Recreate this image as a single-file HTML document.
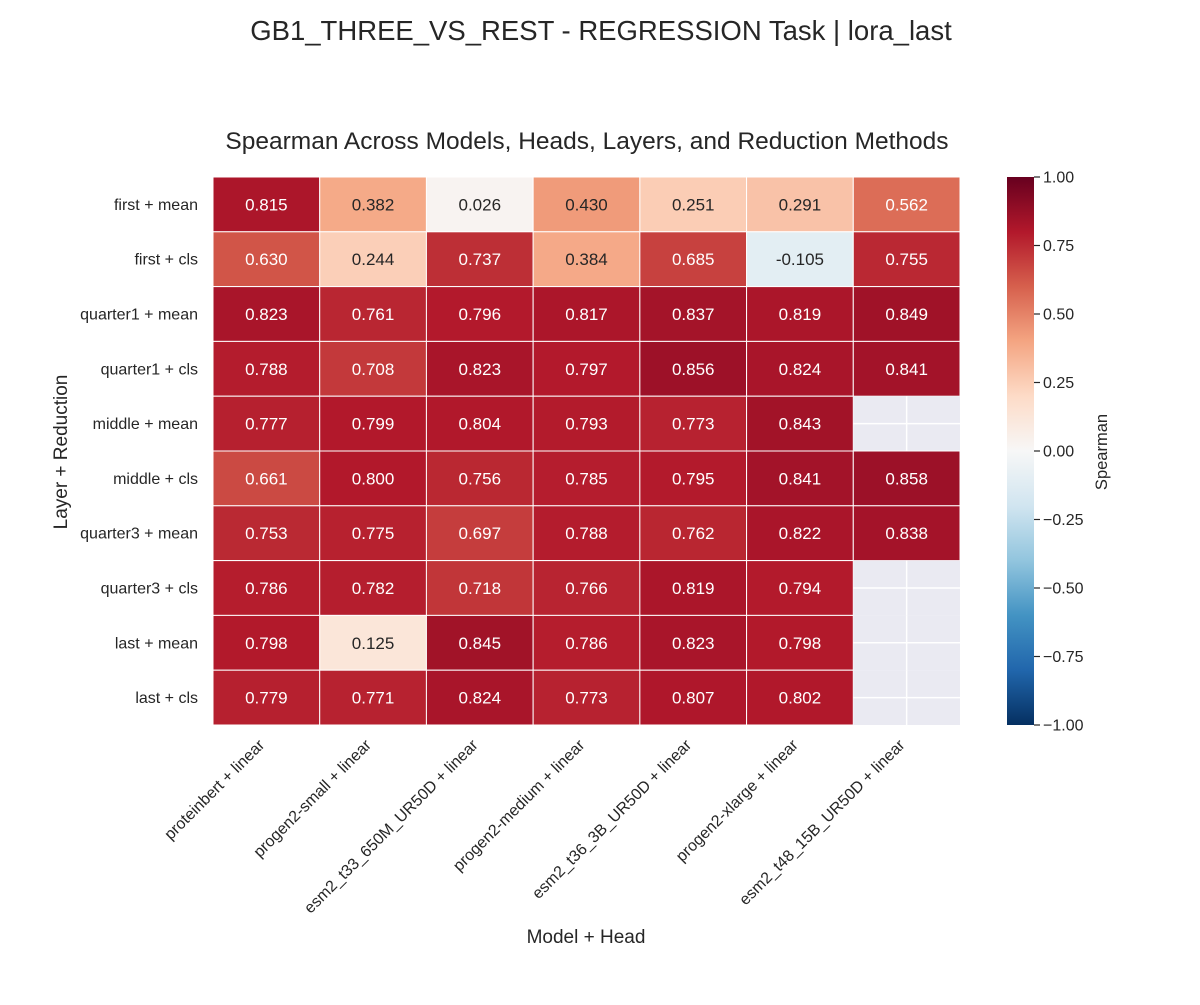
<!DOCTYPE html>
<html><head><meta charset="utf-8"><style>
body{margin:0;background:#fff}
svg text{font-family:"Liberation Sans",Arial,sans-serif;fill:#262626}
</style></head><body>
<svg id="chart" width="1200" height="1000" viewBox="0 0 1200 1000" xmlns="http://www.w3.org/2000/svg">
<text x="601" y="40" font-size="27.5" text-anchor="middle">GB1_THREE_VS_REST - REGRESSION Task | lora_last</text>
<text x="587" y="149" font-size="24.5" text-anchor="middle">Spearman Across Models, Heads, Layers, and Reduction Methods</text>
<g id="cells"></g>
<g id="ylabels"></g>
<g id="xlabels"></g>
<text transform="translate(67,452) rotate(-90)" font-size="19" text-anchor="middle">Layer + Reduction</text>
<text x="586" y="943" font-size="19" text-anchor="middle">Model + Head</text>
<defs><linearGradient id="cbgrad" x1="0" y1="1" x2="0" y2="0"></linearGradient></defs>
<rect x="1007" y="177" width="27" height="548" fill="url(#cbgrad)"/>
<g id="cbticks"></g>
<text transform="translate(1107,452) rotate(-90)" font-size="16.5" text-anchor="middle">Spearman</text>
</svg>
<script>
const rows=["first + mean","first + cls","quarter1 + mean","quarter1 + cls","middle + mean","middle + cls","quarter3 + mean","quarter3 + cls","last + mean","last + cls"];
const cols=["proteinbert + linear","progen2-small + linear","esm2_t33_650M_UR50D + linear","progen2-medium + linear","esm2_t36_3B_UR50D + linear","progen2-xlarge + linear","esm2_t48_15B_UR50D + linear"];
const values=[
[0.815,0.382,0.026,0.430,0.251,0.291,0.562],
[0.630,0.244,0.737,0.384,0.685,-0.105,0.755],
[0.823,0.761,0.796,0.817,0.837,0.819,0.849],
[0.788,0.708,0.823,0.797,0.856,0.824,0.841],
[0.777,0.799,0.804,0.793,0.773,0.843,null],
[0.661,0.800,0.756,0.785,0.795,0.841,0.858],
[0.753,0.775,0.697,0.788,0.762,0.822,0.838],
[0.786,0.782,0.718,0.766,0.819,0.794,null],
[0.798,0.125,0.845,0.786,0.823,0.798,null],
[0.779,0.771,0.824,0.773,0.807,0.802,null]];
const cbTicks=[1,0.75,0.5,0.25,0,-0.25,-0.5,-0.75,-1];
const NS="http://www.w3.org/2000/svg";
const X0=213,X1=960,Y0=177,Y1=725;
const cw=(X1-X0)/cols.length, rh=(Y1-Y0)/rows.length;
const xPos=i=>X0+i*cw, yPos=j=>Y0+j*rh;
const cbY=v=>Y1-(v+1)/2*(Y1-Y0);
const stops=["#053061","#2166ac","#4393c3","#92c5de","#d1e5f0","#f7f7f7","#fddbc7","#f4a582","#d6604d","#b2182b","#67001f"];
function hex(h){return [1,3,5].map(i=>parseInt(h.substr(i,2),16));}
function cmap(v){let t=(v+1)/2*10;t=Math.max(0,Math.min(10,t));let i=Math.min(9,Math.floor(t)),f=t-i;
 const a=hex(stops[i]),b=hex(stops[i+1]);return a.map((c,k)=>Math.round(c+(b[k]-c)*f));}
function lum(c){const l=c.map(x=>{x/=255;return x<=0.03928?x/12.92:Math.pow((x+0.055)/1.055,2.4)});return 0.2126*l[0]+0.7152*l[1]+0.0722*l[2];}
function mk(tag,attrs,parent){const e=document.createElementNS(NS,tag);for(const k in attrs)e.setAttribute(k,attrs[k]);parent.appendChild(e);return e;}
const g=document.getElementById('cells');
values.forEach((row,j)=>row.forEach((v,i)=>{
 if(v===null){
  const r=mk('rect',{x:xPos(i),y:yPos(j),width:cw,height:rh,fill:'#eaeaf2'},g);
  
  
  const l1=mk('line',{x1:xPos(i)+cw/2,x2:xPos(i)+cw/2,y1:yPos(j),y2:yPos(j)+rh,stroke:'#fff','stroke-width':1.5},g);
  
  
  const l2=mk('line',{x1:xPos(i),x2:xPos(i)+cw,y1:yPos(j)+rh/2,y2:yPos(j)+rh/2,stroke:'#fff','stroke-width':1.5},g);
  
  
  return;}
 const c=cmap(v);
 const r=mk('rect',{x:xPos(i),y:yPos(j),width:cw,height:rh,fill:`rgb(${c})`,stroke:'#fff','stroke-width':1},g);
 
 
 const t=mk('text',{x:xPos(i)+cw/2,y:yPos(j)+rh/2+6,'font-size':17,'text-anchor':'middle'},g);
 t.style.fill=lum(c)>0.408?'#262626':'#ffffff';
 t.textContent=v.toFixed(3);
 
 
}));
const yl=document.getElementById('ylabels');
rows.forEach((n,j)=>{const t=mk('text',{x:198,y:yPos(j)+rh/2+5.5,'font-size':16,'text-anchor':'end'},yl);t.textContent=n;
 
 });
const xl=document.getElementById('xlabels');
cols.forEach((n,i)=>{const cx=xPos(i)+cw/2-1;const t=mk('text',{transform:`translate(${cx},746) rotate(-45)`,'font-size':16,'text-anchor':'end'},xl);t.textContent=n;
 
 });
const gr=document.getElementById('cbgrad');
stops.forEach((s,k)=>mk('stop',{offset:(k/10),'stop-color':s},gr));
const cb=document.getElementById('cbticks');
cbTicks.forEach(v=>{const y=cbY(v);
 const l=mk('line',{x1:1034,x2:1040,y1:y,y2:y,stroke:'#262626','stroke-width':1.2},cb);
 
 
 const t=mk('text',{x:1043,y:y+5.5,'font-size':16},cb);t.textContent=(v<0?'\u2212':'')+Math.abs(v).toFixed(2);
 
 });
</script>
</body></html>
